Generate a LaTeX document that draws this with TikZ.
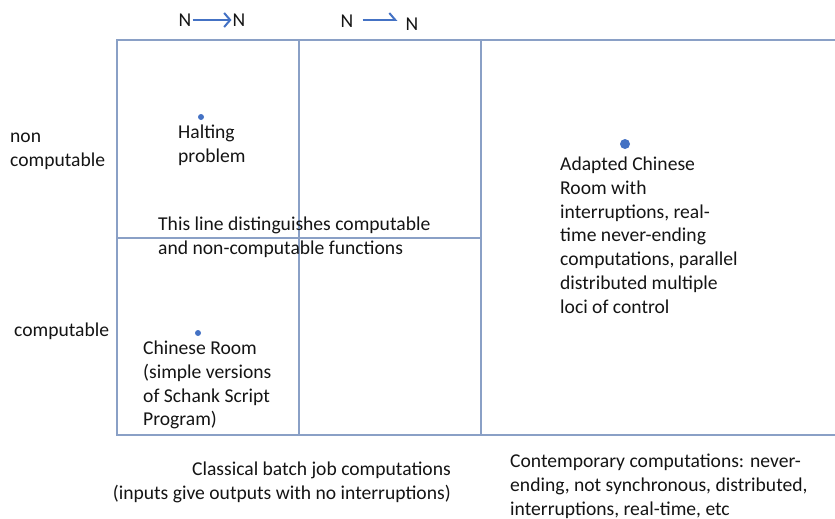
\documentclass[tikz,border=0pt]{standalone}
\usepackage{fontspec}
\setmainfont{Carlito}
\usetikzlibrary{arrows.meta}
\definecolor{gridline}{RGB}{138,160,198}
\definecolor{dotblue}{RGB}{68,114,196}
\tikzset{
	txt/.style={anchor=north west, inner sep=0pt, align=left, text=black!92, font=\fontsize{19.6}{23.7}\selectfont},
	letter/.style={inner sep=1pt, text=black!92, font=\fontsize{19.6}{22}\selectfont},
	mapsto/.style={draw=dotblue, line width=2pt, -{Straight Barb[length=6pt,width=14pt]}},
	halfmap/.style={draw=dotblue, line width=2pt, -{Straight Barb[harpoon,length=6pt,width=14pt]}},
	spot/.style={fill=dotblue, draw=none}
}

\begin{document}
\begin{tikzpicture}[x=1pt, y=-1pt]
		%%%%% START %%%%%
		\useasboundingbox (0, 0) rectangle (835, 519);
		
		% grid
		\draw[gridline, line width=1.2pt] (835, 40) -- (117, 40) -- (117, 435) -- (835, 435);
		\draw[gridline, line width=1.2pt] (299, 40) -- (299, 435);
		\draw[gridline, line width=1.2pt] (481, 40) -- (481, 435);
		\draw[gridline, line width=1.2pt] (117, 238) -- (481, 238);
		
		% N -> N labels
		\node[letter] (n1a) at (185, 20) {N};
		\node[letter] (n1b) at (239, 20) {N};
		\draw[mapsto] (n1a) -- (n1b);
		\node[letter] (n2a) at (347, 21) {N};
		\node[letter] (n2b) at (412, 24) {N};
		\draw[halfmap] ([xshift=8pt, yshift=1pt]n2a.east) -- ([xshift=-7pt, yshift=1pt]n2a.east -| n2b.west);
		
		% row labels
		\node[txt] (noncomp) at (10, 133) {non\\computable};
		\node[txt] (comp) at (14, 323) {computable};
		
		% points
		\fill[spot] (201, 117) circle (3);
		\node[txt] (halting) at (178, 125) {Halting\\problem};
		\fill[spot] (198, 333) circle (3);
		\node[txt] (chinese) at (143, 341) {Chinese Room\\(simple versions\\of Schank Script\\Program)};
		\fill[spot] (625, 144) circle (5);
		\node[txt] (adapted) at (560, 157) {Adapted Chinese\\Room with\\interruptions, real-\\time never-ending\\computations, parallel\\distributed multiple\\loci of control};
		
		\node[txt] (divide) at (158, 217) {This line distinguishes computable\\and non-computable functions};
		
		% column labels
		\node[txt, anchor=north east, align=right] (classical) at (451, 462) {Classical batch job computations\\(inputs give outputs with no interruptions)};
		\node[txt] (contemp) at (510, 454) {Contemporary computations: never-\\ending, not synchronous, distributed,\\interruptions, real-time, etc};
		%%%%% END %%%%%
	\end{tikzpicture}
\end{document}
